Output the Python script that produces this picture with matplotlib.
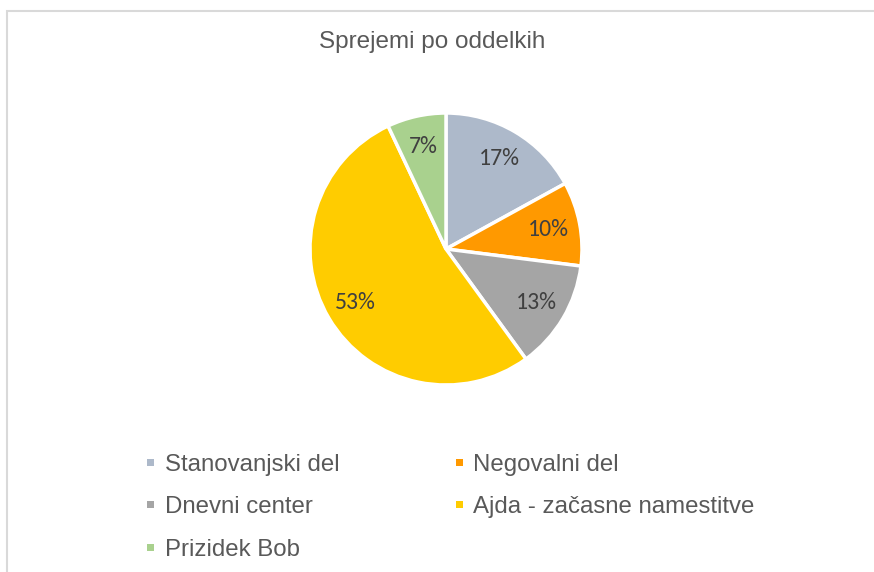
import matplotlib
matplotlib.use("Agg")
import matplotlib.pyplot as plt
from matplotlib.patches import Rectangle

categories = ["Stanovanjski del", "Negovalni del", "Dnevni center",
              "Ajda - začasne namestitve", "Prizidek Bob"]
values = [17, 10, 13, 53, 7]
colors = ["#ADB9CA", "#FF9900", "#A5A5A5", "#FFCC00", "#A9D18E"]
title = "Sprejemi po oddelkih"

W, H = 874, 572
fig = plt.figure(figsize=(W / 100, H / 100), dpi=100)
fig.patch.set_facecolor("white")

def fx(x):
    return x / W

def fy(y):
    return 1 - y / H

# chart frame
fig.patches.append(Rectangle((fx(7), fy(H + 20)), fx(W + 20 - 7), (H + 20 - 11) / H,
                             transform=fig.transFigure, fill=False,
                             edgecolor="#D9D9D9", linewidth=1.5))

cx, cy, r = 446, 249, 136
ax = fig.add_axes([fx(cx - r), fy(cy + r), 2 * r / W, 2 * r / H])
wedges, texts, autotexts = ax.pie(
    values, colors=colors, startangle=90, counterclock=False, radius=1,
    autopct=lambda p: f"{p:.0f}%", pctdistance=0.77,
    wedgeprops=dict(edgecolor="white", linewidth=2.5),
    textprops=dict(color="#404040", fontsize=17, family=["Carlito", "Lato", "DejaVu Sans"]))
ax.set_xlim(-1, 1)
ax.set_ylim(-1, 1)
ax.set_aspect("equal")
ax.axis("off")

fig.text(fx(432), fy(42), title, ha="center", va="center", fontsize=17.5,
         color="#595959", family=["Liberation Sans", "DejaVu Sans"])

# legend (row-major, 2 columns)
col_marker_x = [147, 456]
col_text_x = [165, 473]
row_base_y = [471, 513, 556]
for i, (name, c) in enumerate(zip(categories, colors)):
    row, col = divmod(i, 2)
    by = row_base_y[row]
    my = by - 12
    fig.patches.append(Rectangle((fx(col_marker_x[col]), fy(my + 7)), 7 / W, 7 / H,
                                 transform=fig.transFigure, facecolor=c, edgecolor="none"))
    fig.text(fx(col_text_x[col]), fy(by), name, ha="left", va="baseline",
             fontsize=17.3, color="#595959", family=["Liberation Sans", "DejaVu Sans"])

fig.savefig("out.png", dpi=100, facecolor="white")
